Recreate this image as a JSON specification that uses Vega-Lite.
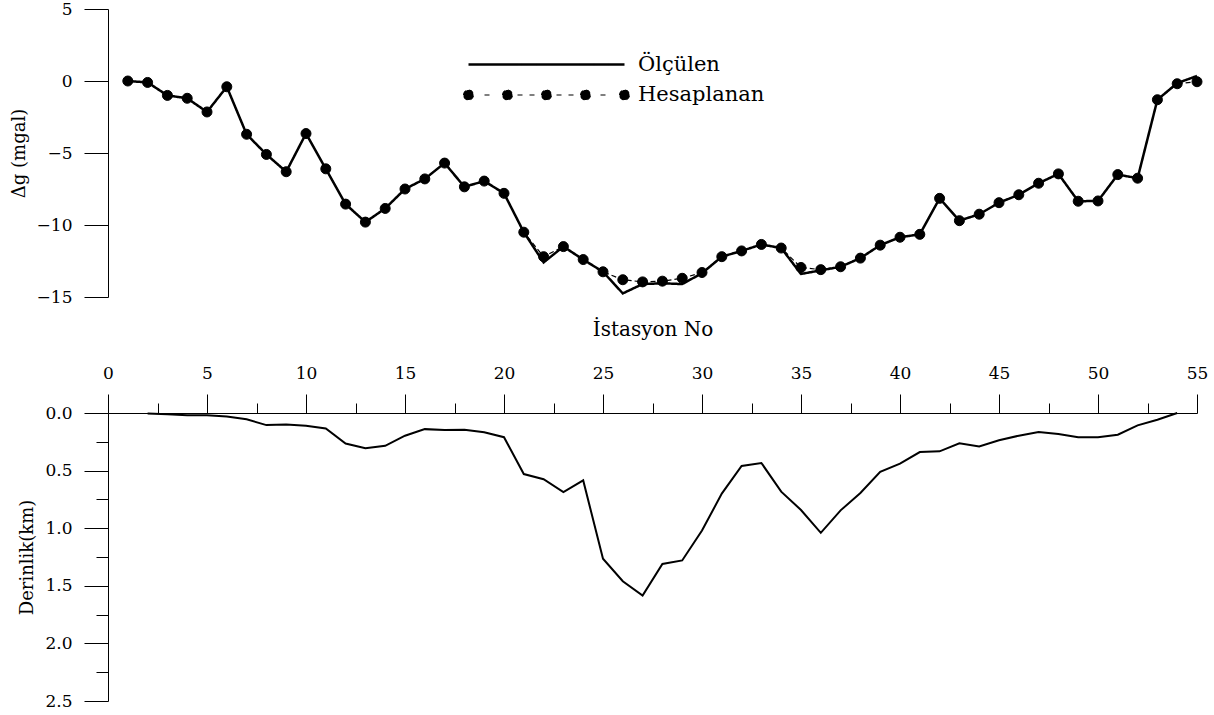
{
  "$schema": "https://vega.github.io/schema/vega-lite/v6.json",
  "background": "white",
  "padding": {"left": 10, "top": 0, "right": 5, "bottom": 5},
  "spacing": 14,
  "config": {
    "view": {"stroke": null},
    "font": "DejaVu Serif",
    "axis": {
      "grid": false,
      "domainColor": "#000",
      "domainWidth": 1,
      "tickColor": "#000",
      "tickWidth": 1,
      "labelColor": "#000",
      "titleColor": "#000",
      "labelFont": "DejaVu Serif",
      "titleFont": "DejaVu Serif",
      "titleFontWeight": "normal",
      "labelFontSize": 17,
      "titleFontSize": 18,
      "labelFlush": false
    },
    "legend": {"labelFont": "DejaVu Serif"}
  },
  "datasets": {
    "gravity": [
      {"station": 1, "Ölçülen": 0.0, "Hesaplanan": 0.0},
      {"station": 2, "Ölçülen": -0.1, "Hesaplanan": -0.1},
      {"station": 3, "Ölçülen": -1.0, "Hesaplanan": -1.0},
      {"station": 4, "Ölçülen": -1.2, "Hesaplanan": -1.2},
      {"station": 5, "Ölçülen": -2.15, "Hesaplanan": -2.15},
      {"station": 6, "Ölçülen": -0.4, "Hesaplanan": -0.4},
      {"station": 7, "Ölçülen": -3.7, "Hesaplanan": -3.7},
      {"station": 8, "Ölçülen": -5.1, "Hesaplanan": -5.1},
      {"station": 9, "Ölçülen": -6.3, "Hesaplanan": -6.3},
      {"station": 10, "Ölçülen": -3.65, "Hesaplanan": -3.65},
      {"station": 11, "Ölçülen": -6.1, "Hesaplanan": -6.1},
      {"station": 12, "Ölçülen": -8.55, "Hesaplanan": -8.55},
      {"station": 13, "Ölçülen": -9.8, "Hesaplanan": -9.8},
      {"station": 14, "Ölçülen": -8.85, "Hesaplanan": -8.85},
      {"station": 15, "Ölçülen": -7.5, "Hesaplanan": -7.5},
      {"station": 16, "Ölçülen": -6.8, "Hesaplanan": -6.8},
      {"station": 17, "Ölçülen": -5.7, "Hesaplanan": -5.7},
      {"station": 18, "Ölçülen": -7.35, "Hesaplanan": -7.35},
      {"station": 19, "Ölçülen": -6.95, "Hesaplanan": -6.95},
      {"station": 20, "Ölçülen": -7.8, "Hesaplanan": -7.8},
      {"station": 21, "Ölçülen": -10.5, "Hesaplanan": -10.5},
      {"station": 22, "Ölçülen": -12.6, "Hesaplanan": -12.2},
      {"station": 23, "Ölçülen": -11.5, "Hesaplanan": -11.5},
      {"station": 24, "Ölçülen": -12.4, "Hesaplanan": -12.4},
      {"station": 25, "Ölçülen": -13.25, "Hesaplanan": -13.25},
      {"station": 26, "Ölçülen": -14.75, "Hesaplanan": -13.8},
      {"station": 27, "Ölçülen": -14.1, "Hesaplanan": -13.95},
      {"station": 28, "Ölçülen": -14.05, "Hesaplanan": -13.9},
      {"station": 29, "Ölçülen": -14.1, "Hesaplanan": -13.7},
      {"station": 30, "Ölçülen": -13.35, "Hesaplanan": -13.3},
      {"station": 31, "Ölçülen": -12.2, "Hesaplanan": -12.2},
      {"station": 32, "Ölçülen": -11.8, "Hesaplanan": -11.8},
      {"station": 33, "Ölçülen": -11.35, "Hesaplanan": -11.35},
      {"station": 34, "Ölçülen": -11.6, "Hesaplanan": -11.6},
      {"station": 35, "Ölçülen": -13.4, "Hesaplanan": -12.95},
      {"station": 36, "Ölçülen": -13.15, "Hesaplanan": -13.1},
      {"station": 37, "Ölçülen": -12.9, "Hesaplanan": -12.9},
      {"station": 38, "Ölçülen": -12.3, "Hesaplanan": -12.3},
      {"station": 39, "Ölçülen": -11.4, "Hesaplanan": -11.4},
      {"station": 40, "Ölçülen": -10.85, "Hesaplanan": -10.85},
      {"station": 41, "Ölçülen": -10.65, "Hesaplanan": -10.65},
      {"station": 42, "Ölçülen": -8.15, "Hesaplanan": -8.15},
      {"station": 43, "Ölçülen": -9.7, "Hesaplanan": -9.7},
      {"station": 44, "Ölçülen": -9.25, "Hesaplanan": -9.25},
      {"station": 45, "Ölçülen": -8.45, "Hesaplanan": -8.45},
      {"station": 46, "Ölçülen": -7.9, "Hesaplanan": -7.9},
      {"station": 47, "Ölçülen": -7.1, "Hesaplanan": -7.1},
      {"station": 48, "Ölçülen": -6.45, "Hesaplanan": -6.45},
      {"station": 49, "Ölçülen": -8.35, "Hesaplanan": -8.35},
      {"station": 50, "Ölçülen": -8.33, "Hesaplanan": -8.33},
      {"station": 51, "Ölçülen": -6.5, "Hesaplanan": -6.5},
      {"station": 52, "Ölçülen": -6.75, "Hesaplanan": -6.75},
      {"station": 53, "Ölçülen": -1.3, "Hesaplanan": -1.3},
      {"station": 54, "Ölçülen": -0.15, "Hesaplanan": -0.19},
      {"station": 55, "Ölçülen": 0.35, "Hesaplanan": -0.05}
    ],
    "depth": [
      {"station": 2, "depth": 0.005},
      {"station": 3, "depth": 0.01},
      {"station": 4, "depth": 0.02},
      {"station": 5, "depth": 0.02},
      {"station": 6, "depth": 0.03},
      {"station": 7, "depth": 0.055},
      {"station": 8, "depth": 0.105},
      {"station": 9, "depth": 0.1},
      {"station": 10, "depth": 0.11},
      {"station": 11, "depth": 0.135},
      {"station": 12, "depth": 0.265},
      {"station": 13, "depth": 0.305},
      {"station": 14, "depth": 0.285},
      {"station": 15, "depth": 0.197},
      {"station": 16, "depth": 0.14},
      {"station": 17, "depth": 0.148},
      {"station": 18, "depth": 0.145},
      {"station": 19, "depth": 0.168},
      {"station": 20, "depth": 0.21},
      {"station": 21, "depth": 0.53},
      {"station": 22, "depth": 0.575},
      {"station": 23, "depth": 0.686},
      {"station": 24, "depth": 0.585},
      {"station": 25, "depth": 1.265},
      {"station": 26, "depth": 1.46},
      {"station": 27, "depth": 1.585},
      {"station": 28, "depth": 1.31},
      {"station": 29, "depth": 1.28},
      {"station": 30, "depth": 1.02},
      {"station": 31, "depth": 0.7},
      {"station": 32, "depth": 0.46},
      {"station": 33, "depth": 0.434},
      {"station": 34, "depth": 0.683},
      {"station": 35, "depth": 0.842},
      {"station": 36, "depth": 1.04},
      {"station": 37, "depth": 0.845},
      {"station": 38, "depth": 0.694},
      {"station": 39, "depth": 0.51},
      {"station": 40, "depth": 0.44},
      {"station": 41, "depth": 0.339},
      {"station": 42, "depth": 0.333},
      {"station": 43, "depth": 0.263},
      {"station": 44, "depth": 0.29},
      {"station": 45, "depth": 0.237},
      {"station": 46, "depth": 0.197},
      {"station": 47, "depth": 0.165},
      {"station": 48, "depth": 0.182},
      {"station": 49, "depth": 0.211},
      {"station": 50, "depth": 0.211},
      {"station": 51, "depth": 0.188},
      {"station": 52, "depth": 0.107},
      {"station": 53, "depth": 0.058},
      {"station": 54, "depth": 0.0}
    ]
  },
  "vconcat": [
    {
      "width": 1089,
      "height": 288,
      "data": {"name": "gravity"},
      "transform": [{"fold": ["Ölçülen", "Hesaplanan"], "as": ["series", "g"]}],
      "layer": [
        {
          "mark": {"type": "line", "strokeJoin": "miter", "strokeCap": "butt"},
          "encoding": {
            "x": {"field": "station", "type": "quantitative", "scale": {"domain": [0, 55], "nice": false, "zero": false}, "axis": null},
            "y": {
              "field": "g", "type": "quantitative",
              "scale": {"domain": [-15, 5], "nice": false, "zero": false},
              "axis": {
                "title": "Δg (mgal)",
                "values": [-15, -12.5, -10, -7.5, -5, -2.5, 0, 2.5, 5],
                "format": "d",
                "labelExpr": "datum.value % 5 === 0 ? datum.label : ''",
                "tickSize": {"condition": {"test": "datum.value % 5 === 0", "value": 24}, "value": 12},
                "labelPadding": 12,
                "titlePadding": 8
              }
            },
            "color": {
              "field": "series", "type": "nominal",
              "scale": {"domain": ["Ölçülen", "Hesaplanan"], "range": ["#000000", "#000000"]},
              "legend": {
                "orient": "none",
                "legendX": 427,
                "legendY": 44,
                "title": null,
                "labelFont": "DejaVu Serif",
                "labelFontSize": 21,
                "labelColor": "#000",
                "symbolSize": 400,
                "symbolStrokeWidth": 1,
                "labelOffset": 80,
                "rowPadding": 9,
                "padding": 0
              }
            },
            "strokeDash": {
              "field": "series", "type": "nominal",
              "scale": {"domain": ["Ölçülen", "Hesaplanan"], "range": [[1, 0], [5, 3]]},
              "legend": null
            },
            "strokeWidth": {
              "field": "series", "type": "ordinal",
              "scale": {"domain": ["Ölçülen", "Hesaplanan"], "range": [2.5, 1.2]},
              "legend": null
            }
          }
        },
        {
          "transform": [{"filter": "datum.series === 'Hesaplanan'"}],
          "mark": {"type": "point", "filled": true, "size": 100, "color": "#000000", "stroke": "#000000", "strokeWidth": 1, "opacity": 1},
          "encoding": {
            "x": {"field": "station", "type": "quantitative"},
            "y": {"field": "g", "type": "quantitative"},
            "shape": {
              "field": "series", "type": "nominal",
              "condition": {"test": "true", "value": "circle"},
              "scale": {
                "domain": ["Ölçülen", "Hesaplanan"],
                "range": [
                  "M-7.8,0L7.8,0",
                  "M-8.3,0A0.5,0.5,0,1,1,-7.3,0A0.5,0.5,0,1,1,-8.3,0ZM-4.4,0A0.5,0.5,0,1,1,-3.4,0A0.5,0.5,0,1,1,-4.4,0ZM-0.5,0A0.5,0.5,0,1,1,0.5,0A0.5,0.5,0,1,1,-0.5,0ZM3.4,0A0.5,0.5,0,1,1,4.4,0A0.5,0.5,0,1,1,3.4,0ZM7.3,0A0.5,0.5,0,1,1,8.3,0A0.5,0.5,0,1,1,7.3,0ZM-6.2,0L-5.4,0M-2.9,0L-2.3,0M-1.7,0L-1.0,0M1.0,0L1.6,0M2.2,0L2.9,0M5.4,0L6.2,0"
                ]
              },
              "legend": {
                "orient": "none",
                "legendX": 427,
                "legendY": 44,
                "title": null,
                "labelFont": "DejaVu Serif",
                "labelFontSize": 21,
                "labelColor": "#000",
                "symbolSize": 400,
                "symbolFillColor": "#000000",
                "symbolStrokeColor": "#000000",
                "symbolStrokeWidth": 1,
                "symbolOpacity": 1,
                "labelOffset": 80,
                "rowPadding": 9,
                "padding": 0
              }
            }
          }
        }
      ]
    },
    {
      "width": 1089,
      "height": 288,
      "data": {"name": "depth"},
      "mark": {"type": "line", "color": "#000000", "strokeWidth": 2, "strokeJoin": "miter"},
      "encoding": {
        "x": {
          "field": "station", "type": "quantitative",
          "scale": {"domain": [0, 55], "nice": false, "zero": false},
          "axis": {
            "orient": "top",
            "title": "İstasyon No",
            "values": [0, 2.5, 5, 7.5, 10, 12.5, 15, 17.5, 20, 22.5, 25, 27.5, 30, 32.5, 35, 37.5, 40, 42.5, 45, 47.5, 50, 52.5, 55],
            "format": "d",
            "labelExpr": "datum.value % 5 === 0 ? datum.label : ''",
            "tickSize": {"condition": {"test": "datum.value % 5 === 0", "value": 19}, "value": 10},
            "labelPadding": 12,
            "titlePadding": 25,
            "titleFontSize": 20,
            "labelFlush": false
          }
        },
        "y": {
          "field": "depth", "type": "quantitative",
          "scale": {"domain": [0, 2.5], "nice": false, "reverse": true},
          "axis": {
            "title": "Derinlik(km)",
            "values": [0, 0.25, 0.5, 0.75, 1, 1.25, 1.5, 1.75, 2, 2.25, 2.5],
            "format": ".1f",
            "labelExpr": "datum.value % 0.5 === 0 ? datum.label : ''",
            "tickSize": {"condition": {"test": "datum.value % 0.5 === 0", "value": 24}, "value": 12},
            "labelPadding": 12,
            "titlePadding": 8
          }
        }
      }
    }
  ]
}
